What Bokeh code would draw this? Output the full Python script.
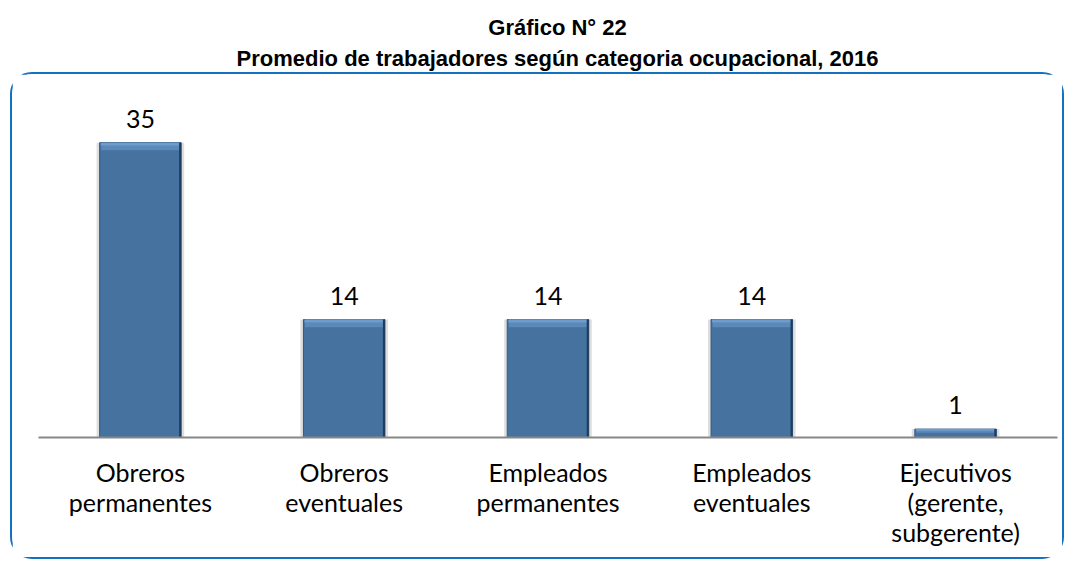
from bokeh.plotting import figure
from bokeh.layouts import column
from bokeh.models import ColumnDataSource, Range1d, FactorRange, LabelSet
from bokeh.transform import dodge
from bokeh.core.properties import value
from bokeh.embed import file_html
from bokeh.resources import INLINE

categories = ["Obreros\npermanentes", "Obreros\neventuales", "Empleados\npermanentes",
              "Empleados\neventuales", "Ejecutivos\n(gerente,\nsubgerente)"]
values = [35, 14, 14, 14, 1]
value_labels = ["35", "14", "14", "14", "1"]
title_lines = ["Gráfico N° 22", "Promedio de trabajadores según categoria ocupacional, 2016"]

LABEL_FONT = "Lato"
TITLE_FONT = "Liberation Sans"

# ---- title figure ----
tf = figure(width=1068, height=72, output_backend="svg", toolbar_location=None,
            x_range=Range1d(0, 1068), y_range=Range1d(72, 0), min_border=0)
tf.axis.visible = False
tf.grid.visible = False
tf.outline_line_color = None
tsrc = ColumnDataSource(dict(x=[549, 549], y=[27, 58], t=title_lines))
tf.text(x="x", y="y", text="t", source=tsrc, text_align="center", text_baseline="middle",
        text_font=value(TITLE_FONT), text_font_style="bold", text_font_size="22px",
        text_color="#000000")

# ---- chart figure ----
src = ColumnDataSource(dict(
    cat=categories, val=values, lab=value_labels,
    bev=[v - min(0.9, v * 0.45) for v in values],
    bev2=[v - min(0.35, v * 0.2) for v in values],
))
p = figure(width=1054, height=487, output_backend="svg", toolbar_location=None,
           x_range=FactorRange(factors=categories, range_padding=0),
           y_range=Range1d(0, 40),
           min_border_left=26, min_border_right=9, min_border_top=26, min_border_bottom=124)
p.styles = {"border": "2px solid #1570C0", "border-radius": "22px", "margin-left": "10px"}
p.grid.visible = False
p.yaxis.visible = False
p.outline_line_color = None

# soft shadow
p.vbar(x="cat", top="val", width=0.43, source=src, fill_color="#C8C8C8", fill_alpha=0.6,
       line_color=None)
# main bar
p.vbar(x="cat", top="val", width=0.4, source=src, fill_color="#45729F",
       line_color="#34597E", line_width=1)
# top bevel
p.vbar(x="cat", top="val", bottom="bev", width=0.385, source=src, fill_color="#5A89BA",
       line_color=None)
p.vbar(x="cat", top="val", bottom="bev2", width=0.39, source=src, fill_color="#6E9CCB",
       line_color=None)
# right dark edge
p.vbar(x=dodge("cat", 0.195, range=p.x_range), top="val", width=0.01, source=src,
       fill_color="#1E3D5C", line_color=None)

labels = LabelSet(x="cat", y="val", text="lab", source=src, text_align="center",
                  text_baseline="bottom", y_offset=15, text_font=value(LABEL_FONT),
                  text_font_size="25px", text_color="#000000")
p.add_layout(labels)

ax = p.xaxis[0]
ax.axis_line_color = "#878787"
ax.axis_line_width = 2
ax.major_tick_line_color = None
ax.minor_tick_line_color = None
ax.major_label_text_font = LABEL_FONT
ax.major_label_text_font_size = "25px"
ax.major_label_text_color = "#000000"
ax.major_label_standoff = 13
ax.major_label_text_line_height = 1.0

layout = column(tf, p, spacing=0)
open("out.html", "w").write(file_html(layout, INLINE))
